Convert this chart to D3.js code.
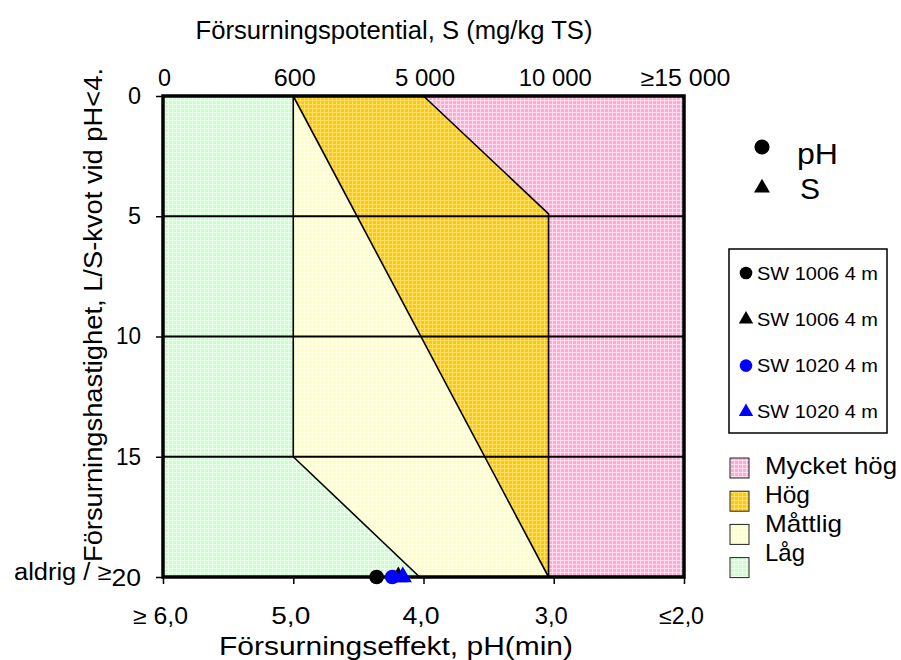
<!DOCTYPE html>
<html>
<head>
<meta charset="utf-8">
<script src="https://cdn.jsdelivr.net/npm/d3@7"></script>
<style>
body { margin: 0; background: #fff; }
text { font-family: "Liberation Sans", Arial, sans-serif; fill: #000; }
</style>
</head>
<body>
<div id="chart"></div>
<script>
// axis ticks and labels
var phTicks = [6, 5, 4, 3, 2];
var phLabels = ["≥ 6,0", "5,0", "4,0", "3,0", "≤2,0"];
var sTicks = [0, 600, 5000, 10000, 15000];
var sLabels = ["0", "600", "5 000", "10 000", "≥15 000"];
var lsTicks = [0, 5, 10, 15, 20];
var lsLabels = ["0", "5", "10", "15", "20"];

// classification zones, corners as [pH, L/S]
var zoneNames = ["Mycket hög", "Hög", "Måttlig", "Låg"];
var zoneCorners = [
    [[4, 0], [2, 0], [2, 20], [3.04, 20], [3.04, 4.9]],
    [[5, 0], [4, 0], [3.04, 4.9], [3.04, 20]],
    [[5, 0], [3.04, 20], [4.03, 20], [5, 15]],
    [[6, 0], [5, 0], [5, 15], [4.03, 20], [6, 20]]
];
var zoneBorders = [
    [[5, 0], [5, 15], [4.03, 20]],
    [[5, 0], [3.04, 20]],
    [[4, 0], [3.04, 4.9], [3.04, 20]]
];

// samples
var samples = ["SW 1006 4 m", "SW 1020 4 m"];
var samplePH = [4.36, 4.24];
var sampleS = [4150, 4300];
var sampleLS = [20, 20];
var sampleColors = ["#000000", "#0000ff"];

var width = 901, height = 660;
var margin = { top: 96, right: 217, bottom: 83, left: 163 };

var svg = d3.select("#chart").append("svg")
    .attr("width", width)
    .attr("height", height);

// fine grid fills like the Excel patterns
var fills = {
    "Mycket hög": ["#ffaad5", "#ffddef"],
    "Hög": ["#ffc800", "#ffe066"],
    "Måttlig": ["#ffffbe", "#ffffe4"],
    "Låg": ["#c8ffc8", "#eeffee"]
};
var defs = svg.append("defs");
zoneNames.forEach(function(name, i) {
    var p = defs.append("pattern")
        .attr("id", "pat" + i)
        .attr("width", 4).attr("height", 4)
        .attr("patternUnits", "userSpaceOnUse");
    p.append("rect").attr("width", 4).attr("height", 4).attr("fill", fills[name][0]);
    p.append("path").attr("d", "M0,0.5H4M0.5,0V4")
        .attr("stroke", fills[name][1]).attr("stroke-width", 1);
});

var x = d3.scaleLinear()
    .domain([6, 2])
    .range([margin.left, width - margin.right]);
var xTop = d3.scaleLinear()
    .domain(sTicks)
    .range(phTicks.map(x));
var y = d3.scaleLinear()
    .domain([0, 20])
    .range([margin.top, height - margin.bottom]);

var line = d3.line()
    .x(function(d) { return x(d[0]); })
    .y(function(d) { return y(d[1]); });

// zones
svg.selectAll("path.zone")
    .data(zoneCorners)
    .enter()
    .append("path")
    .attr("class", "zone")
    .attr("d", function(d) { return line(d) + "Z"; })
    .attr("fill", function(d, i) { return "url(#pat" + i + ")"; });

// horizontal grid lines
svg.selectAll("line.grid")
    .data(lsTicks.slice(1, 4))
    .enter()
    .append("line")
    .attr("class", "grid")
    .attr("x1", x(6)).attr("x2", x(2))
    .attr("y1", y).attr("y2", y)
    .attr("stroke", "#000")
    .attr("stroke-width", 1.8);

svg.selectAll("path.border")
    .data(zoneBorders)
    .enter()
    .append("path")
    .attr("class", "border")
    .attr("d", line)
    .attr("fill", "none")
    .attr("stroke", "#000")
    .attr("stroke-width", 1.6);

// axes
var bottomAxis = svg.append("g")
    .attr("transform", "translate(0," + y(20) + ")")
    .call(d3.axisBottom(x).tickValues(phTicks).tickSize(7)
        .tickFormat(function(d, i) { return phLabels[i]; }));
var phWidths = [55, 39, 37, 33, 45];
bottomAxis.selectAll("text")
    .attr("y", 47).attr("dy", 0)
    .attr("x", -3)
    .style("font-size", "23px")
    .attr("textLength", function(d, i) { return phWidths[i]; })
    .attr("lengthAdjust", "spacingAndGlyphs");

var topAxis = svg.append("g")
    .attr("transform", "translate(0," + y(0) + ")")
    .call(d3.axisTop(xTop).tickValues(sTicks).tickSize(0).tickPadding(10)
        .tickFormat(function(d, i) { return sLabels[i]; }));
var sWidths = [13, 42, 60, 73, 90];
topAxis.selectAll("text")
    .attr("x", 1)
    .style("font-size", "23px")
    .attr("textLength", function(d, i) { return sWidths[i]; })
    .attr("lengthAdjust", "spacingAndGlyphs");

var leftAxis = svg.append("g")
    .attr("transform", "translate(" + x(6) + ",0)")
    .call(d3.axisLeft(y).tickValues(lsTicks).tickSize(7).tickPadding(15)
        .tickFormat(function(d, i) { return lsLabels[i]; }));
leftAxis.selectAll("text")
    .style("font-size", "23px")
    .attr("textLength", function(d) { return d < 10 ? 13 : 25; })
    .attr("lengthAdjust", "spacingAndGlyphs");
// last label reads "aldrig / ≥20"
leftAxis.selectAll("text")
    .filter(function(d) { return d === 20; })
    .text(null)
    .attr("textLength", 127)
    .call(function(t) {
        t.append("tspan").text("aldrig / ≥").attr("dy", "0.1em");
        t.append("tspan").text("20").attr("dy", "0.25em").style("font-size", "24px");
    });

svg.selectAll(".domain").remove();
svg.selectAll(".tick line").attr("stroke", "#000").attr("stroke-width", 1.5);

// plot frame
svg.append("rect")
    .attr("x", x(6)).attr("y", y(0))
    .attr("width", x(2) - x(6))
    .attr("height", y(20) - y(0))
    .attr("fill", "none")
    .attr("stroke", "#000")
    .attr("stroke-width", 3.5);

// axis titles
svg.append("text")
    .attr("x", 394).attr("y", 39)
    .attr("text-anchor", "middle")
    .style("font-size", "26px")
    .attr("textLength", 397)
    .attr("lengthAdjust", "spacingAndGlyphs")
    .text("Försurningspotential, S (mg/kg TS)");

svg.append("text")
    .attr("x", 396).attr("y", 655)
    .attr("text-anchor", "middle")
    .style("font-size", "25px")
    .attr("textLength", 354)
    .attr("lengthAdjust", "spacingAndGlyphs")
    .text("Försurningseffekt, pH(min)");

svg.append("text")
    .attr("transform", "translate(102,315) rotate(-90)")
    .attr("text-anchor", "middle")
    .style("font-size", "25px")
    .attr("textLength", 494)
    .attr("lengthAdjust", "spacingAndGlyphs")
    .text("Försurningshastighet, L/S-kvot vid pH<4.");

// sample points: circle = pH, triangle = S
var circle = d3.symbol().type(d3.symbolCircle).size(170);
var triangle = d3.symbol().type(d3.symbolTriangle).size(145);

samples.forEach(function(name, i) {
    svg.append("path")
        .attr("d", circle())
        .attr("transform", "translate(" + x(samplePH[i]) + "," + y(sampleLS[i]) + ")")
        .attr("fill", sampleColors[i]);
    svg.append("path")
        .attr("d", triangle())
        .attr("transform", "translate(" + xTop(sampleS[i]) + "," + y(sampleLS[i]) + ")")
        .attr("fill", sampleColors[i]);
});

// legend: symbol meaning
var symLegend = svg.append("g").attr("transform", "translate(762,0)");
symLegend.append("path").attr("d", d3.symbol().type(d3.symbolCircle).size(180)())
    .attr("transform", "translate(0,147)");
symLegend.append("path").attr("d", d3.symbol().type(d3.symbolTriangle).size(110)())
    .attr("transform", "translate(0,188)");
symLegend.append("text").attr("x", 35).attr("y", 164)
    .style("font-size", "29px").attr("textLength", 41)
    .attr("lengthAdjust", "spacingAndGlyphs").text("pH");
symLegend.append("text").attr("x", 38).attr("y", 199)
    .style("font-size", "29px").attr("textLength", 20)
    .attr("lengthAdjust", "spacingAndGlyphs").text("S");

// legend: samples
var boxLegend = svg.append("g").attr("transform", "translate(729,249)");
boxLegend.append("rect")
    .attr("width", 158).attr("height", 184)
    .attr("fill", "#fff")
    .attr("stroke", "#000")
    .attr("stroke-width", 1.5);
var entries = [];
samples.forEach(function(name, i) {
    entries.push({ name: name, color: sampleColors[i], sym: circle });
    entries.push({ name: name, color: sampleColors[i], sym: triangle });
});
var entry = boxLegend.selectAll("g.entry")
    .data(entries)
    .enter()
    .append("g")
    .attr("class", "entry")
    .attr("transform", function(d, i) { return "translate(17," + (24 + i * 46.3) + ")"; });
entry.append("path")
    .attr("d", function(d) { return d.sym === circle ? circle.size(125)() : triangle.size(90)(); })
    .attr("fill", function(d) { return d.color; });
entry.append("text")
    .attr("x", 11).attr("y", 6.5)
    .style("font-size", "18px")
    .attr("textLength", 121)
    .attr("lengthAdjust", "spacingAndGlyphs")
    .text(function(d) { return d.name; });

// legend: zones
var zoneWidths = [132, 45, 77, 40];
var zoneLegend = svg.append("g").attr("transform", "translate(730,0)");
zoneLegend.selectAll("rect")
    .data(zoneNames)
    .enter()
    .append("rect")
    .attr("y", function(d, i) { return 458 + i * 33.2; })
    .attr("width", 19).attr("height", 20)
    .attr("fill", function(d, i) { return "url(#pat" + i + ")"; })
    .attr("stroke", "#222")
    .attr("stroke-width", 1);
zoneLegend.selectAll("text")
    .data(zoneNames)
    .enter()
    .append("text")
    .attr("x", 35)
    .attr("y", function(d, i) { return 474 + i * 29; })
    .style("font-size", "24px")
    .attr("textLength", function(d, i) { return zoneWidths[i]; })
    .attr("lengthAdjust", "spacingAndGlyphs")
    .text(function(d) { return d; });
</script>
</body>
</html>
